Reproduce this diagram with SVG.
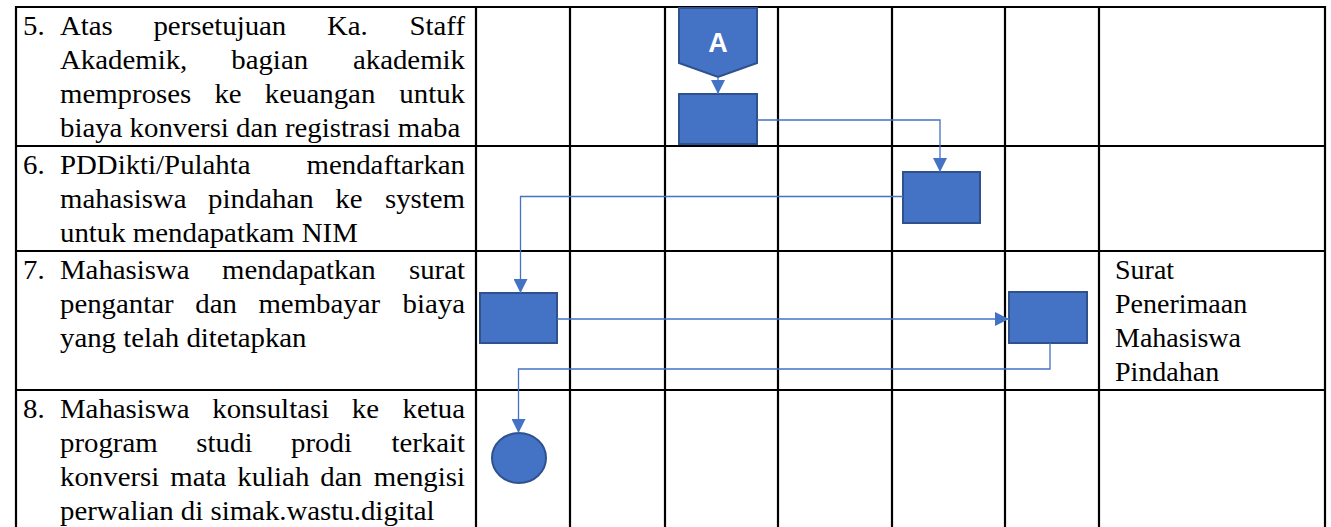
<svg xmlns="http://www.w3.org/2000/svg" width="1331" height="527" viewBox="0 0 1331 527">
<style>
.grid line{stroke:#000;stroke-width:2.2}
.t{font-family:"Liberation Serif","Times New Roman",serif;font-size:28px;fill:#000}
.shape{fill:#4472C4;stroke:#2F528F;stroke-width:2}
.conn{fill:none;stroke:#4472C4;stroke-width:1.3}
.lbl{font-family:"Liberation Sans",Arial,sans-serif;font-weight:bold;font-size:27px;fill:#fff;text-anchor:middle}
</style>
<defs>
<marker id="arr" viewBox="0 0 14 14" refX="14" refY="7" markerWidth="14" markerHeight="14" markerUnits="userSpaceOnUse" orient="auto">
<path d="M0,0 L14,7 L0,14 z" fill="#4472C4"/>
</marker>
</defs>
<rect width="1331" height="527" fill="#fff"/>
<g id="grid" class="grid">
<line x1="15" y1="7" x2="1326" y2="7"/>
<line x1="15" y1="146" x2="1326" y2="146"/>
<line x1="15" y1="251" x2="1326" y2="251"/>
<line x1="15" y1="390" x2="1326" y2="390"/>
<line x1="16" y1="6" x2="16" y2="527"/>
<line x1="476" y1="6" x2="476" y2="527"/>
<line x1="570" y1="6" x2="570" y2="527"/>
<line x1="665" y1="6" x2="665" y2="527"/>
<line x1="778" y1="6" x2="778" y2="527"/>
<line x1="892" y1="6" x2="892" y2="527"/>
<line x1="1005" y1="6" x2="1005" y2="527"/>
<line x1="1099" y1="6" x2="1099" y2="527"/>
<line x1="1325" y1="6" x2="1325" y2="527"/>
</g>
<g id="steps" class="t" transform="scale(1.03 1)">
<g id="step5">
<text y="35"><tspan x="22.33">5.</tspan><tspan x="58.25" word-spacing="32.42">Atas persetujuan Ka.</tspan><tspan x="451.46" text-anchor="end">Staff</tspan></text>
<text y="69"><tspan x="58.25" word-spacing="35.72">Akademik, bagian</tspan><tspan x="451.46" text-anchor="end">akademik</tspan></text>
<text y="103"><tspan x="58.25" word-spacing="15.52">memproses ke keuangan</tspan><tspan x="451.46" text-anchor="end">untuk</tspan></text>
<text x="58.25" y="137">biaya konversi dan registrasi maba</text>
</g>
<g id="step6">
<text y="174"><tspan x="22.33">6.</tspan><tspan x="58.25">PDDikti/Pulahta</tspan><tspan x="451.46" text-anchor="end">mendaftarkan</tspan></text>
<text y="208"><tspan x="58.25" word-spacing="13.97">mahasiswa pindahan ke</tspan><tspan x="451.46" text-anchor="end">system</tspan></text>
<text x="58.25" y="242">untuk mendapatkam NIM</text>
</g>
<g id="step7">
<text y="279"><tspan x="22.33">7.</tspan><tspan x="58.25" word-spacing="24.46">Mahasiswa mendapatkan</tspan><tspan x="451.46" text-anchor="end">surat</tspan></text>
<text y="313"><tspan x="58.25" word-spacing="13.97">pengantar dan membayar</tspan><tspan x="451.46" text-anchor="end">biaya</tspan></text>
<text x="58.25" y="347">yang telah ditetapkan</text>
</g>
<g id="step8">
<text y="418"><tspan x="22.33">8.</tspan><tspan x="58.25" word-spacing="14.94">Mahasiswa konsultasi ke</tspan><tspan x="451.46" text-anchor="end">ketua</tspan></text>
<text y="452"><tspan x="58.25" word-spacing="30.57">program studi prodi</tspan><tspan x="451.46" text-anchor="end">terkait</tspan></text>
<text y="486"><tspan x="58.25" word-spacing="3.68">konversi mata kuliah dan</tspan><tspan x="451.46" text-anchor="end">mengisi</tspan></text>
<text x="58.25" y="520">perwalian di simak.wastu.digital</text>
</g>
</g>
<g id="output-doc" class="t">
<text x="1115" y="279">Surat</text>
<text x="1115" y="313">Penerimaan</text>
<text x="1115" y="347">Mahasiswa</text>
<text x="1115" y="381">Pindahan</text>
</g>
<g id="connector-A">
<polygon class="shape" points="679,8 757,8 757,63 718,77 679,63"/>
<text class="lbl" x="718" y="52">A</text>
</g>
<g id="proc-akademik"><rect class="shape" x="679" y="94" width="78" height="50"/></g>
<g id="proc-pddikti"><rect class="shape" x="903" y="172" width="77" height="51"/></g>
<g id="proc-mahasiswa"><rect class="shape" x="480" y="293" width="77" height="50"/></g>
<g id="proc-surat"><rect class="shape" x="1009" y="292" width="78" height="51"/></g>
<g id="end"><ellipse class="shape" cx="519" cy="458" rx="27" ry="25"/></g>
<g id="connectors" class="conn">
<path d="M718,77 L718,94" marker-end="url(#arr)"/>
<path d="M757,120 L940,120 L940,172" marker-end="url(#arr)"/>
<path d="M903,196.5 L520.5,196.5 L520.5,293" marker-end="url(#arr)"/>
<path d="M557,319 L1009,319" marker-end="url(#arr)"/>
<path d="M1050,343 L1050,369 L518.5,369 L518.5,433" marker-end="url(#arr)"/>
</g>
</svg>
